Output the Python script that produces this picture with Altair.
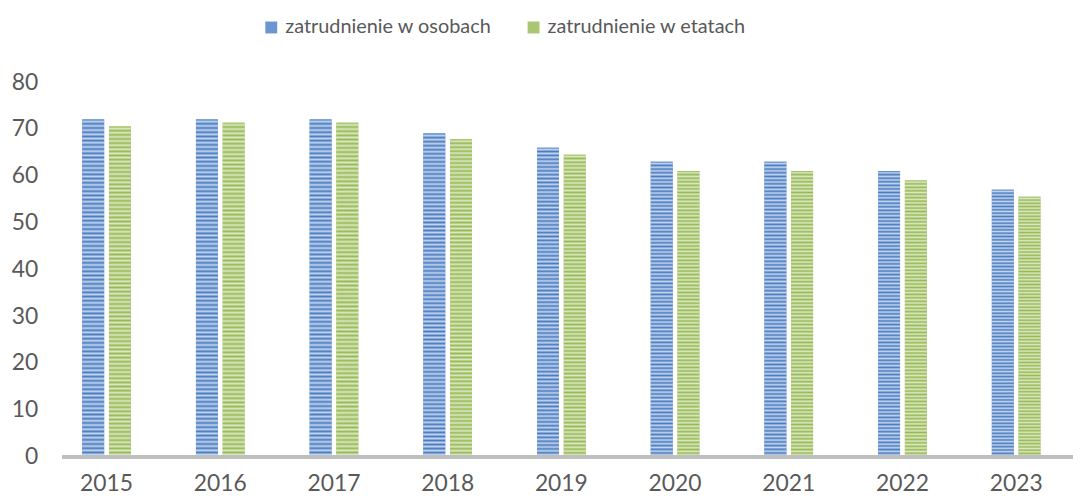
import altair as alt
import pandas as pd

years = ["2015", "2016", "2017", "2018", "2019", "2020", "2021", "2022", "2023"]
osoby = [72, 72, 72, 69, 66, 63, 63, 61, 57]
etaty = [70.5, 71.3, 71.3, 67.8, 64.5, 61, 61, 59, 55.5]
series = ["zatrudnienie w osobach", "zatrudnienie w etatach"]
y_ticks = [0, 10, 20, 30, 40, 50, 60, 70, 80]

rows = []
for y, a, b in zip(years, osoby, etaty):
    rows.append({"rok": y, "seria": series[0], "val": a})
    rows.append({"rok": y, "seria": series[1], "val": b})
df = pd.DataFrame(rows)

FONT = "Lato"
TXT = "#595959"


def stripes(dark, light, n=80):
    stops = []
    for i in range(n):
        stops.append({"offset": i / n, "color": dark})
        stops.append({"offset": (i + 0.5) / n, "color": light})
    stops.append({"offset": 1.0, "color": dark})
    return {"gradient": "linear", "x1": 0, "y1": 0, "x2": 0, "y2": 1, "stops": stops}


x_enc = alt.X("rok:N", sort=years, title=None,
              scale=alt.Scale(paddingInner=0.572, paddingOuter=0.286),
              axis=alt.Axis(labelAngle=0, ticks=False, tickSize=0, domain=False,
                            labelFontSize=23, labelColor=TXT, labelFont=FONT,
                            labelPadding=16))
xo_enc = alt.XOffset("seria:N", sort=series,
                     scale=alt.Scale(paddingInner=0.18, paddingOuter=0))
y_enc = alt.Y("val:Q", title=None,
              scale=alt.Scale(domain=[0, 80], nice=False),
              axis=alt.Axis(values=y_ticks, ticks=False, tickSize=0, domain=False,
                            grid=False, labelFontSize=23, labelColor=TXT,
                            labelFont=FONT, labelPadding=12))

base = alt.Chart(df).mark_bar().encode(
    x=x_enc, xOffset=xo_enc, y=y_enc,
    color=alt.Color("seria:N", sort=series,
                    scale=alt.Scale(domain=series, range=["#6a96d1", "#aac672"]),
                    legend=alt.Legend(title=None, orient="none", direction="horizontal",
                                      legendX=213, legendY=-65,
                                      symbolType="square", symbolSize=144,
                                      symbolStrokeWidth=0, labelFontSize=20,
                                      labelColor=TXT, labelFont=FONT, labelLimit=0,
                                      labelOffset=4, columnPadding=32, padding=0)),
)

blue = alt.Chart(df).transform_filter(alt.datum.seria == series[0]).mark_bar(
    fill=stripes("#4a7cc0", "#c3d5ee")
).encode(x=x_enc, xOffset=xo_enc, y=y_enc)

green = alt.Chart(df).transform_filter(alt.datum.seria == series[1]).mark_bar(
    fill=stripes("#97b954", "#dbe8c4")
).encode(x=x_enc, xOffset=xo_enc, y=y_enc)

axis_line = alt.Chart(df).mark_rule(color="#bfbfbf", strokeWidth=3).encode(
    x=alt.value(13), x2=alt.value(1031), y=alt.value(377)
)

chart = alt.layer(base, blue, green, axis_line).properties(
    width=1030, height=377,
    autosize=alt.AutoSizeParams(type="none"),
    padding={"left": 42, "top": 73, "right": 0, "bottom": 40},
    view=alt.ViewBackground(stroke="transparent", strokeWidth=0),
).configure_view(stroke="transparent", strokeWidth=0).configure(background="white")

chart.save("out.html", embed_options={"renderer": "svg", "actions": False})
